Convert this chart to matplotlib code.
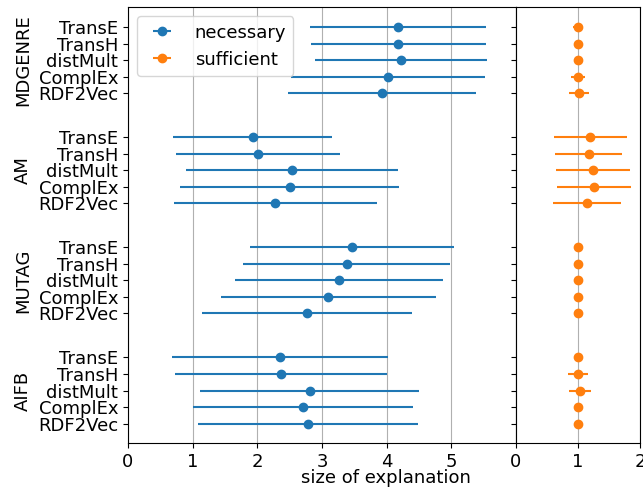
import matplotlib
matplotlib.use("Agg")
import matplotlib.pyplot as plt
import matplotlib.transforms as mtransforms
import numpy as np

datasets = ["MDGENRE", "AM", "MUTAG", "AIFB"]
models = ["TransE", "TransH", "distMult", "ComplEx", "RDF2Vec"]

# necessary explanation size: mean and std, per dataset (rows) and model (cols)
nec_mean = [
    [4.18, 4.18, 4.22, 4.02, 3.93],
    [1.93, 2.01, 2.53, 2.50, 2.28],
    [3.46, 3.38, 3.26, 3.10, 2.77],
    [2.35, 2.36, 2.81, 2.70, 2.79],
]
nec_std = [
    [1.36, 1.35, 1.33, 1.50, 1.45],
    [1.23, 1.27, 1.64, 1.69, 1.57],
    [1.58, 1.60, 1.61, 1.66, 1.62],
    [1.67, 1.64, 1.69, 1.70, 1.70],
]
suf_mean = [
    [1.00, 1.00, 1.00, 1.00, 1.02],
    [1.20, 1.17, 1.24, 1.26, 1.15],
    [1.00, 1.00, 1.00, 1.00, 1.00],
    [1.00, 1.00, 1.035, 1.00, 1.00],
]
suf_std = [
    [0.08, 0.0, 0.0, 0.11, 0.165],
    [0.59, 0.54, 0.60, 0.60, 0.55],
    [0.0, 0.0, 0.0, 0.0, 0.0],
    [0.0, 0.16, 0.18, 0.0, 0.0],
]

plt.rcParams["font.size"] = 13

fig = plt.figure(figsize=(6.43, 4.91), dpi=100)
gs = fig.add_gridspec(1, 2, width_ratios=[388, 124], wspace=0,
                      left=0.199, right=0.9953, bottom=0.097, top=0.985)
ax1 = fig.add_subplot(gs[0])
ax2 = fig.add_subplot(gs[1], sharey=ax1)

ypos = []
ylabels = []
for g in range(len(datasets)):
    for j in range(len(models)):
        ypos.append(g + 0.15 * j)
        ylabels.append(models[j])
ypos = np.array(ypos)

nm = np.array(nec_mean).ravel()
ns = np.array(nec_std).ravel()
sm = np.array(suf_mean).ravel()
ss = np.array(suf_std).ravel()

h1 = ax1.errorbar(nm, ypos, xerr=ns, fmt="o", color="C0", label="necessary")
h2 = ax2.errorbar(sm, ypos, xerr=ss, fmt="o", color="C1", label="sufficient")

ax1.set_xlim(0, 6)
ax2.set_xlim(0, 2)
ax1.set_xticks([0, 1, 2, 3, 4, 5])
ax2.set_xticks([0, 1, 2])
ax1.set_ylim(3.78, -0.18)
ax1.set_yticks(ypos)
ax1.set_yticklabels(ylabels)
ax2.tick_params(axis="y", labelleft=False)
ax1.grid(axis="x")
ax2.grid(axis="x")
ax1.set_axisbelow(True)
ax2.set_axisbelow(True)

ax1.legend([h1, h2], ["necessary", "sufficient"], loc="upper left")

trans = mtransforms.blended_transform_factory(fig.transFigure, ax1.transData)
for g, name in enumerate(datasets):
    ax1.text(0.036, g + 0.3, name, rotation=90, ha="center", va="center",
             transform=trans, clip_on=False)

fig.text(0.6, 0.008, "size of explanation", ha="center", va="bottom")

fig.savefig("out.png", dpi=100)
